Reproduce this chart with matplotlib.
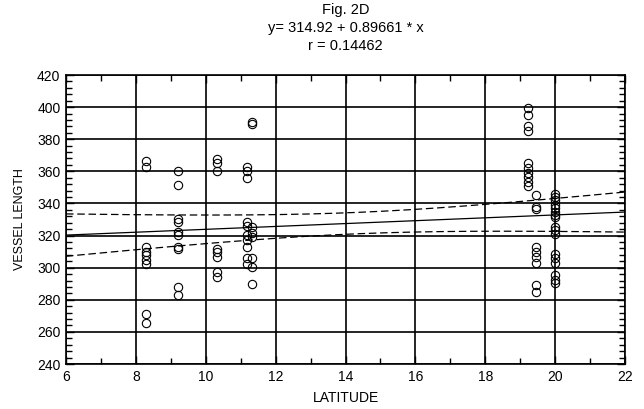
import numpy as np
import matplotlib
matplotlib.use("Agg")
import matplotlib.pyplot as plt
from matplotlib.ticker import MultipleLocator

plt.rcParams['font.family'] = ['Liberation Sans', 'DejaVu Sans']

# latitude columns and the vessel lengths
lat_cols = [8.29, 9.2, 10.31, 11.17, 11.33, 19.23, 19.45, 20.0]
len_cols = [
    [366.6, 362.9, 313.0, 309.9, 307.9, 304.8, 302.3, 271.1, 265.3],
    [360.2, 351.5, 330.3, 328.2, 322.4, 320.3, 313.0, 311.4, 288.1, 282.9],
    [367.4, 365.3, 360.2, 311.4, 309.9, 306.8, 297.5, 294.4],
    [362.9, 360.4, 355.6, 328.6, 326.0, 320.3, 317.2, 312.7, 305.8, 302.3],
    [390.9, 389.4, 325.1, 321.4, 318.9, 305.8, 300.6, 289.8],
    [399.5, 395.0, 388.2, 385.3, 365.0, 361.9, 359.1, 356.6, 353.5, 350.8],
    [345.2, 337.9, 336.3, 313.0, 309.9, 306.8, 302.7, 289.2, 285.0],
    [345.9, 344.2, 342.2, 339.1, 337.0, 334.9, 332.8, 331.4, 325.5, 323.5,
     321.0, 308.5, 305.8, 302.7, 295.5, 292.3, 290.3],
]

intercept = 314.92
slope = 0.89661
r_value = 0.14462

lat = np.concatenate([[x] * len(v) for x, v in zip(lat_cols, len_cols)])
vlen = np.concatenate(len_cols)

# regression line and 95% confidence band of the mean
xs = np.linspace(6, 22, 200)
fit = intercept + slope * xs
n = len(lat)
resid = vlen - (intercept + slope * lat)
s = np.sqrt(np.sum(resid ** 2) / (n - 2))
sxx = np.sum((lat - lat.mean()) ** 2)
half = 1.99 * s * np.sqrt(1.0 / n + (xs - lat.mean()) ** 2 / sxx)

fig = plt.figure(figsize=(6.44, 4.09), dpi=100)
ax = fig.add_axes([0.1025, 0.110, 0.868, 0.7066])

ax.plot(lat, vlen, 'o', mfc='none', mec='black', ms=6, mew=0.8, zorder=3)
ax.plot(xs, fit, color='black', lw=0.9)
ax.plot(xs, fit + half, color='black', lw=0.9, ls=(0, (6, 3)))
ax.plot(xs, fit - half, color='black', lw=0.9, ls=(0, (6, 3)))

ax.set_xlim(6, 22)
ax.set_ylim(240, 420)
ax.xaxis.set_major_locator(MultipleLocator(2))
ax.xaxis.set_minor_locator(MultipleLocator(1))
ax.yaxis.set_major_locator(MultipleLocator(20))
ax.yaxis.set_minor_locator(MultipleLocator(4))
ax.tick_params(which='both', direction='in', top=True, right=True,
               labelsize=10, color='black', width=1)
ax.tick_params(which='major', length=6, pad=4)
ax.tick_params(which='minor', length=4)
ax.grid(which='major', color='black', lw=1.2)
for sp in ax.spines.values():
    sp.set_linewidth(1.2)

ax.set_xlabel("LATITUDE", fontsize=10, labelpad=5)
ax.set_ylabel("VESSEL LENGTH", fontsize=9, labelpad=8)
ax.set_title(f"Fig. 2D\ny= {intercept:.2f} + {slope:.5f} * x\nr = {r_value:.5f}",
             fontsize=10.5, linespacing=1.35, pad=18)

fig.savefig("out.png", dpi=100)
